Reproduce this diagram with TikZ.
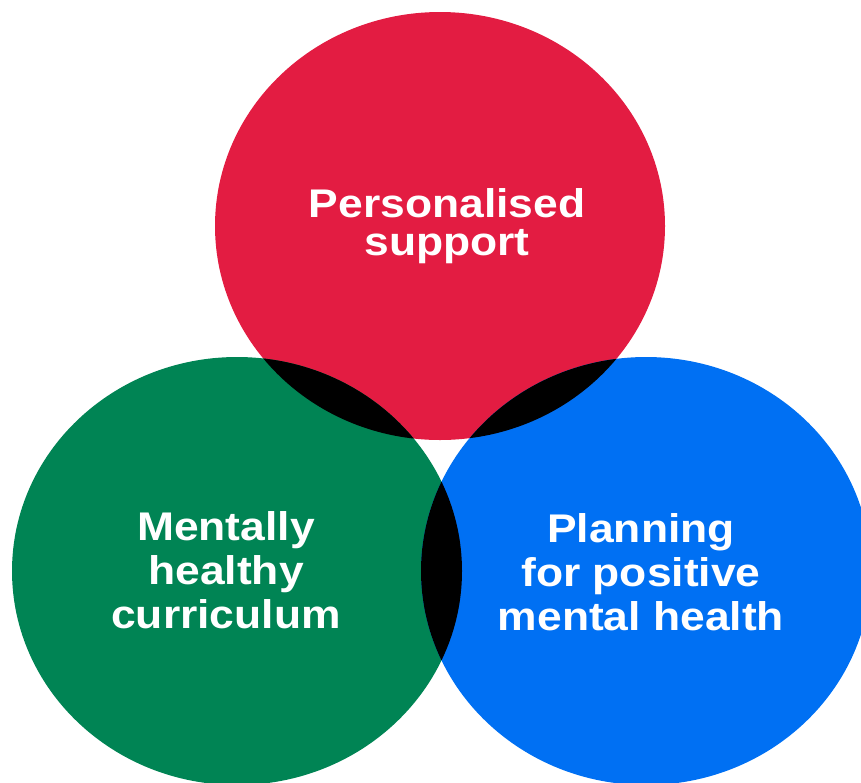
\documentclass[tikz,border=0pt]{standalone}
\usepackage{fontspec}
\newfontfamily\vennfont{Liberation Sans}[FakeStretch=1.11]
\definecolor{vennred}{RGB}{227,28,66}
\definecolor{venngreen}{RGB}{0,132,84}
\definecolor{vennblue}{RGB}{0,112,243}
\begin{document}
\begin{tikzpicture}[x=1pt,y=-1pt,
  vennlabel/.style={text=white,align=center,inner sep=0pt,
    font=\vennfont\bfseries\fontsize{40}{44}\selectfont}]
% the three sets
\def\redset{(440,226) ellipse [x radius=225pt,y radius=214pt]}
\def\greenset{(237,571) ellipse [x radius=225pt,y radius=214pt]}
\def\blueset{(646,571) ellipse [x radius=225pt,y radius=214pt]}
\useasboundingbox (0,0) rectangle (861,782);
\clip (0,0) rectangle (861,782);
\fill[vennred] \redset;
\fill[venngreen] \greenset;
\fill[vennblue] \blueset;
% overlaps in black
\begin{scope}
\clip \redset;
\fill[black] \greenset;
\fill[black] \blueset;
\end{scope}
\begin{scope}
\clip \greenset;
\fill[black] \blueset;
\end{scope}
% labels
\node[vennlabel,font=\vennfont\bfseries\fontsize{40}{38}\selectfont]
  (personal) at (447,226) {Personalised\\support};
\node[vennlabel] (curriculum) at (226,570) {Mentally\\healthy\\curriculum};
\node[vennlabel] (planning) at (641,572) {Planning\\for positive\\mental health};
\end{tikzpicture}
\end{document}
